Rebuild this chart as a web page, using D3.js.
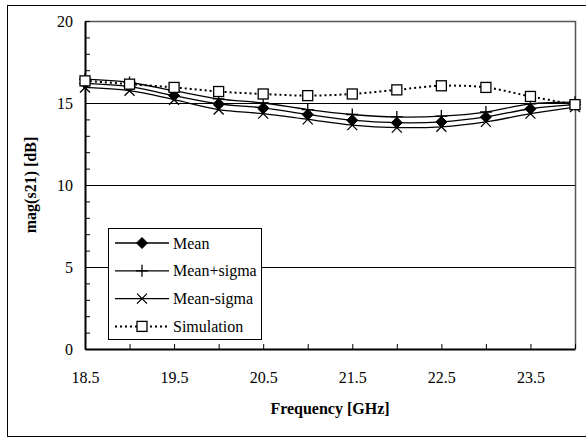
<!DOCTYPE html>
<html>
<head>
<meta charset="utf-8">
<script src="https://cdn.jsdelivr.net/npm/d3@7"></script>
<style>
  body { margin: 0; background: #fff; }
</style>
</head>
<body>
<svg id="chart"></svg>
<script>
// frequency points (GHz)
var freq = [18.5, 19, 19.5, 20, 20.5, 21, 21.5, 22, 22.5, 23, 23.5, 24];
var meanVals = [16.2, 16.0, 15.45, 14.95, 14.7, 14.3, 13.95, 13.8, 13.85, 14.15, 14.65, 14.9];
var plusVals = [16.45, 16.25, 15.75, 15.25, 15.0, 14.6, 14.3, 14.15, 14.2, 14.45, 14.95, 15.05];
var minusVals = [15.95, 15.75, 15.2, 14.6, 14.35, 14.0, 13.65, 13.5, 13.55, 13.85, 14.35, 14.75];
var simVals = [16.35, 16.15, 15.95, 15.7, 15.55, 15.45, 15.55, 15.8, 16.05, 15.95, 15.4, 14.9];
var seriesNames = ["Mean", "Mean+sigma", "Mean-sigma", "Simulation"];
var xLabels = [18.5, 19.5, 20.5, 21.5, 22.5, 23.5];
var yLabels = [0, 5, 10, 15, 20];

var FONT = "'Liberation Serif', 'Times New Roman', Times, serif";
var width = 586, height = 439;
var plot = { left: 85, right: 575, top: 21, bottom: 349 };

var svg = d3.select("#chart").attr("width", width).attr("height", height);

// outer frame (right side runs off the picture)
svg.append("rect")
  .attr("x", 7.5).attr("y", 5.5)
  .attr("width", 590).attr("height", 431)
  .attr("fill", "#fff").attr("stroke", "#000").attr("stroke-width", 1);

var x = d3.scaleLinear().domain([18.5, 24]).range([plot.left, plot.right]);
var y = d3.scaleLinear().domain([0, 20]).range([plot.bottom, plot.top]);

// plot border top/right (gray)
svg.append("path")
  .attr("d", "M" + plot.left + "," + (plot.top + 0.5) + "H" + (plot.right + 0.5) + "V" + plot.bottom)
  .attr("fill", "none").attr("stroke", "#555").attr("stroke-width", 1.5);

// gridlines
svg.append("g")
  .selectAll("line")
  .data([5, 10, 15])
  .enter()
  .append("line")
  .attr("x1", plot.left).attr("x2", plot.right)
  .attr("y1", function (d) { return Math.round(y(d)) + 0.5; })
  .attr("y2", function (d) { return Math.round(y(d)) + 0.5; })
  .attr("stroke", "#000").attr("stroke-width", 1);

// axes
var yaxis = d3.axisLeft(y)
  .tickValues(d3.range(0, 21, 1))
  .tickSizeInner(-5).tickSizeOuter(0).tickPadding(12)
  .tickFormat(function (d) { return yLabels.indexOf(d) >= 0 ? d : ""; });
var gy = svg.append("g").attr("transform", "translate(" + plot.left + ",0)").call(yaxis);

var xaxis = d3.axisBottom(x)
  .tickValues(d3.range(0, 12).map(function (i) { return 18.5 + i * 0.5; }))
  .tickSizeInner(-5).tickSizeOuter(0).tickPadding(23)
  .tickFormat(function (d) { return xLabels.indexOf(d) >= 0 ? d3.format(".1f")(d) : ""; });
var gx = svg.append("g").attr("transform", "translate(0," + plot.bottom + ")").call(xaxis);

[gx, gy].forEach(function (g) {
  g.attr("font-family", FONT).attr("font-size", 16);
  g.select(".domain").attr("stroke", "#000").attr("stroke-width", 2);
  g.selectAll(".tick line").attr("stroke", "#000");
  g.selectAll("text").attr("fill", "#000");
});

// axis titles
svg.append("text")
  .attr("text-anchor", "middle")
  .attr("transform", "translate(36," + ((plot.top + plot.bottom) / 2) + ")rotate(-90)")
  .attr("font-family", FONT).attr("font-size", 16).attr("font-weight", "bold")
  .text("mag(s21) [dB]");
svg.append("text")
  .attr("text-anchor", "middle")
  .attr("x", (plot.left + plot.right) / 2).attr("y", 414)
  .attr("font-family", FONT).attr("font-size", 16).attr("font-weight", "bold")
  .text("Frequency [GHz]");

// markers
function drawMarker(g, kind, cx, cy) {
  if (kind === "diamond") {
    g.append("path")
      .attr("d", "M" + cx + "," + (cy - 5.5) + "L" + (cx + 5.5) + "," + cy + "L" + cx + "," + (cy + 5.5) + "L" + (cx - 5.5) + "," + cy + "Z")
      .attr("fill", "#000").attr("stroke", "#000");
  } else if (kind === "plus") {
    g.append("path")
      .attr("d", "M" + cx + "," + (cy - 6) + "V" + (cy + 6) + "M" + (cx - 6) + "," + cy + "H" + (cx + 6))
      .attr("fill", "none").attr("stroke", "#000").attr("stroke-width", 1.3);
  } else if (kind === "cross") {
    g.append("path")
      .attr("d", "M" + (cx - 5) + "," + (cy - 5) + "L" + (cx + 5) + "," + (cy + 5) + "M" + (cx - 5) + "," + (cy + 5) + "L" + (cx + 5) + "," + (cy - 5))
      .attr("fill", "none").attr("stroke", "#000").attr("stroke-width", 1.3);
  } else if (kind === "square") {
    g.append("rect")
      .attr("x", cx - 5).attr("y", cy - 5).attr("width", 10).attr("height", 10)
      .attr("fill", "#fff").attr("stroke", "#000").attr("stroke-width", 1.3);
  }
}

var series = [
  { name: seriesNames[0], values: meanVals, marker: "diamond", dash: null },
  { name: seriesNames[1], values: plusVals, marker: "plus", dash: null },
  { name: seriesNames[2], values: minusVals, marker: "cross", dash: null },
  { name: seriesNames[3], values: simVals, marker: "square", dash: "2,3" }
];

var line = d3.line()
  .x(function (d) { return x(d.f); })
  .y(function (d) { return y(d.v); })
  .curve(d3.curveCatmullRom.alpha(0.5));

series.forEach(function (s) {
  var pts = freq.map(function (f, i) { return { f: f, v: s.values[i] }; });
  var g = svg.append("g");
  g.append("path")
    .attr("d", line(pts))
    .attr("fill", "none").attr("stroke", "#000").attr("stroke-width", s.dash ? 2 : 1.3)
    .attr("stroke-dasharray", s.dash);
  pts.forEach(function (p) { drawMarker(g, s.marker, x(p.f), y(p.v)); });
});

// legend
var lg = svg.append("g");
lg.append("rect")
  .attr("x", 108.5).attr("y", 228.5).attr("width", 153).attr("height", 111)
  .attr("fill", "#fff").attr("stroke", "#000").attr("stroke-width", 1);
series.forEach(function (s, i) {
  var ly = 243 + i * 27.8;
  lg.append("line")
    .attr("x1", 115).attr("x2", 169).attr("y1", ly).attr("y2", ly)
    .attr("stroke", "#000").attr("stroke-width", s.dash ? 2 : 1.3)
    .attr("stroke-dasharray", s.dash);
  drawMarker(lg, s.marker, 142, ly);
  lg.append("text")
    .attr("x", 173).attr("y", ly + 5.5)
    .attr("font-family", FONT).attr("font-size", 16)
    .text(s.name);
});
</script>
</body>
</html>
